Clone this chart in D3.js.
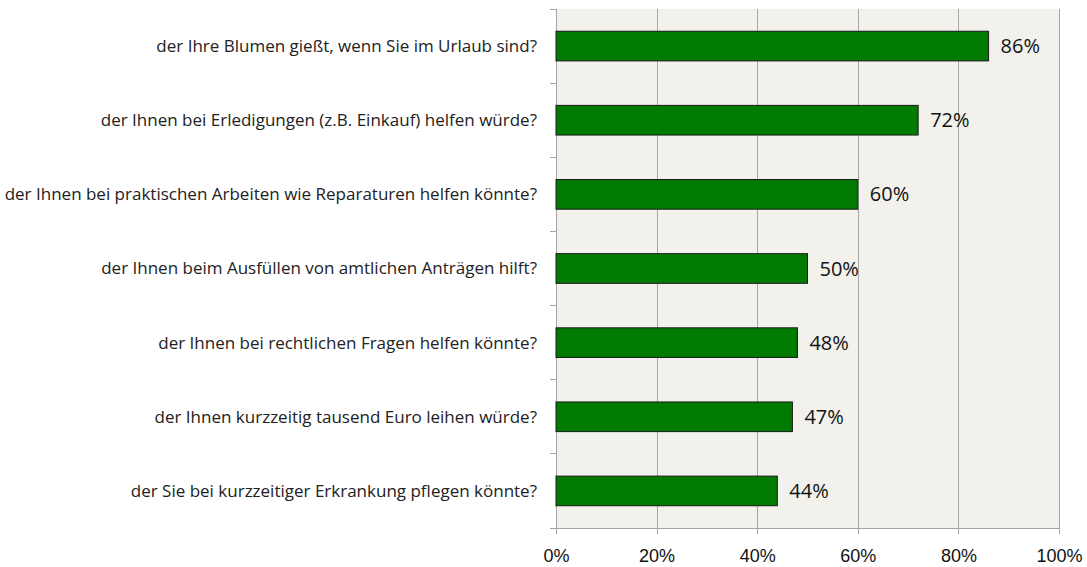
<!DOCTYPE html>
<meta charset="utf-8">
<style>
body {
  margin: 0;
  background-color: white;
  font-family: "Open Sans", sans-serif;
}
svg {
  display: block;
}
.axis path,
.axis line {
  fill: none;
  stroke: #a6a6a6;
  shape-rendering: crispEdges;
}
.grid line {
  stroke: #a6a6a6;
  shape-rendering: crispEdges;
}
.grid path {
  display: none;
}
.bar {
  fill: #007a00;
  stroke: #1a1a1a;
  stroke-width: 1;
}
</style>

<script src="https://d3js.org/d3.v7.min.js"></script>

<body>
<script>

// questions, top to bottom
var questions = [
  "der Ihre Blumen gießt, wenn Sie im Urlaub sind?",
  "der Ihnen bei Erledigungen (z.B. Einkauf) helfen würde?",
  "der Ihnen bei praktischen Arbeiten wie Reparaturen helfen könnte?",
  "der Ihnen beim Ausfüllen von amtlichen Anträgen hilft?",
  "der Ihnen bei rechtlichen Fragen helfen könnte?",
  "der Ihnen kurzzeitig tausend Euro leihen würde?",
  "der Sie bei kurzzeitiger Erkrankung pflegen könnte?"
];

// share in percent
var shares = [86, 72, 60, 50, 48, 47, 44];

var xTicks = [0, 20, 40, 60, 80, 100];

var margin = {top: 9, right: 28, bottom: 39, left: 556},
    width = 1087 - margin.left - margin.right,
    height = 567 - margin.top - margin.bottom;

var svg = d3.select("body").append("svg")
    .attr("width", width + margin.left + margin.right)
    .attr("height", height + margin.top + margin.bottom)
  .append("g")
    .attr("transform", "translate(" + margin.left + "," + margin.top + ")");

var x = d3.scaleLinear()
    .domain([0, 100])
    .range([0, width]);

var y = d3.scaleBand()
    .domain(questions)
    .range([0, height])
    .paddingInner(0.6)
    .paddingOuter(0.3);

// plot background
svg.append("rect")
    .attr("width", width)
    .attr("height", height)
    .attr("fill", "#f2f1ec");

// vertical gridlines
svg.append("g")
    .attr("class", "grid")
    .call(d3.axisBottom(x).tickValues(xTicks.slice(1)).tickSize(height).tickFormat(""));

// x axis
var xAxis = svg.append("g")
    .attr("class", "axis")
    .attr("transform", "translate(0," + height + ")")
    .call(d3.axisBottom(x)
      .tickValues(xTicks)
      .tickSizeInner(6)
      .tickSizeOuter(0)
      .tickPadding(15)
      .tickFormat(function(d) { return d + "%"; }));

xAxis.selectAll("text")
    .attr("fill", "#111")
    .style("font-size", "18px");

// y axis, ticks sit between the categories
var step = y.step();
var boundaries = d3.range(questions.length + 1).map(function(i) {
  return y(questions[0]) - step * 0.3 + i * step;
});

var yAxis = svg.append("g")
    .attr("class", "axis");

yAxis.append("line")
    .attr("x1", 0).attr("x2", 0)
    .attr("y1", 0).attr("y2", height);

yAxis.selectAll(".btick")
    .data(boundaries)
  .enter().append("line")
    .attr("class", "btick")
    .attr("x1", -6).attr("x2", 0)
    .attr("y1", function(d) { return d; })
    .attr("y2", function(d) { return d; });

// category labels
svg.selectAll(".qlabel")
    .data(questions)
  .enter().append("text")
    .attr("class", "qlabel")
    .attr("x", -19)
    .attr("y", function(d) { return y(d) + y.bandwidth() / 2; })
    .attr("dy", "0.35em")
    .attr("text-anchor", "end")
    .attr("fill", "#222")
    .style("font-size", "17px")
    .text(function(d) { return d; });

// bars
svg.selectAll(".bar")
    .data(shares)
  .enter().append("rect")
    .attr("class", "bar")
    .attr("x", 0)
    .attr("y", function(d, i) { return y(questions[i]); })
    .attr("width", function(d) { return x(d); })
    .attr("height", y.bandwidth());

// value labels
svg.selectAll(".vlabel")
    .data(shares)
  .enter().append("text")
    .attr("class", "vlabel")
    .attr("x", function(d) { return x(d) + 12; })
    .attr("y", function(d, i) { return y(questions[i]) + y.bandwidth() / 2; })
    .attr("dy", "0.35em")
    .attr("fill", "#111")
    .style("font-size", "20px")
    .text(function(d) { return d + "%"; });

</script>
